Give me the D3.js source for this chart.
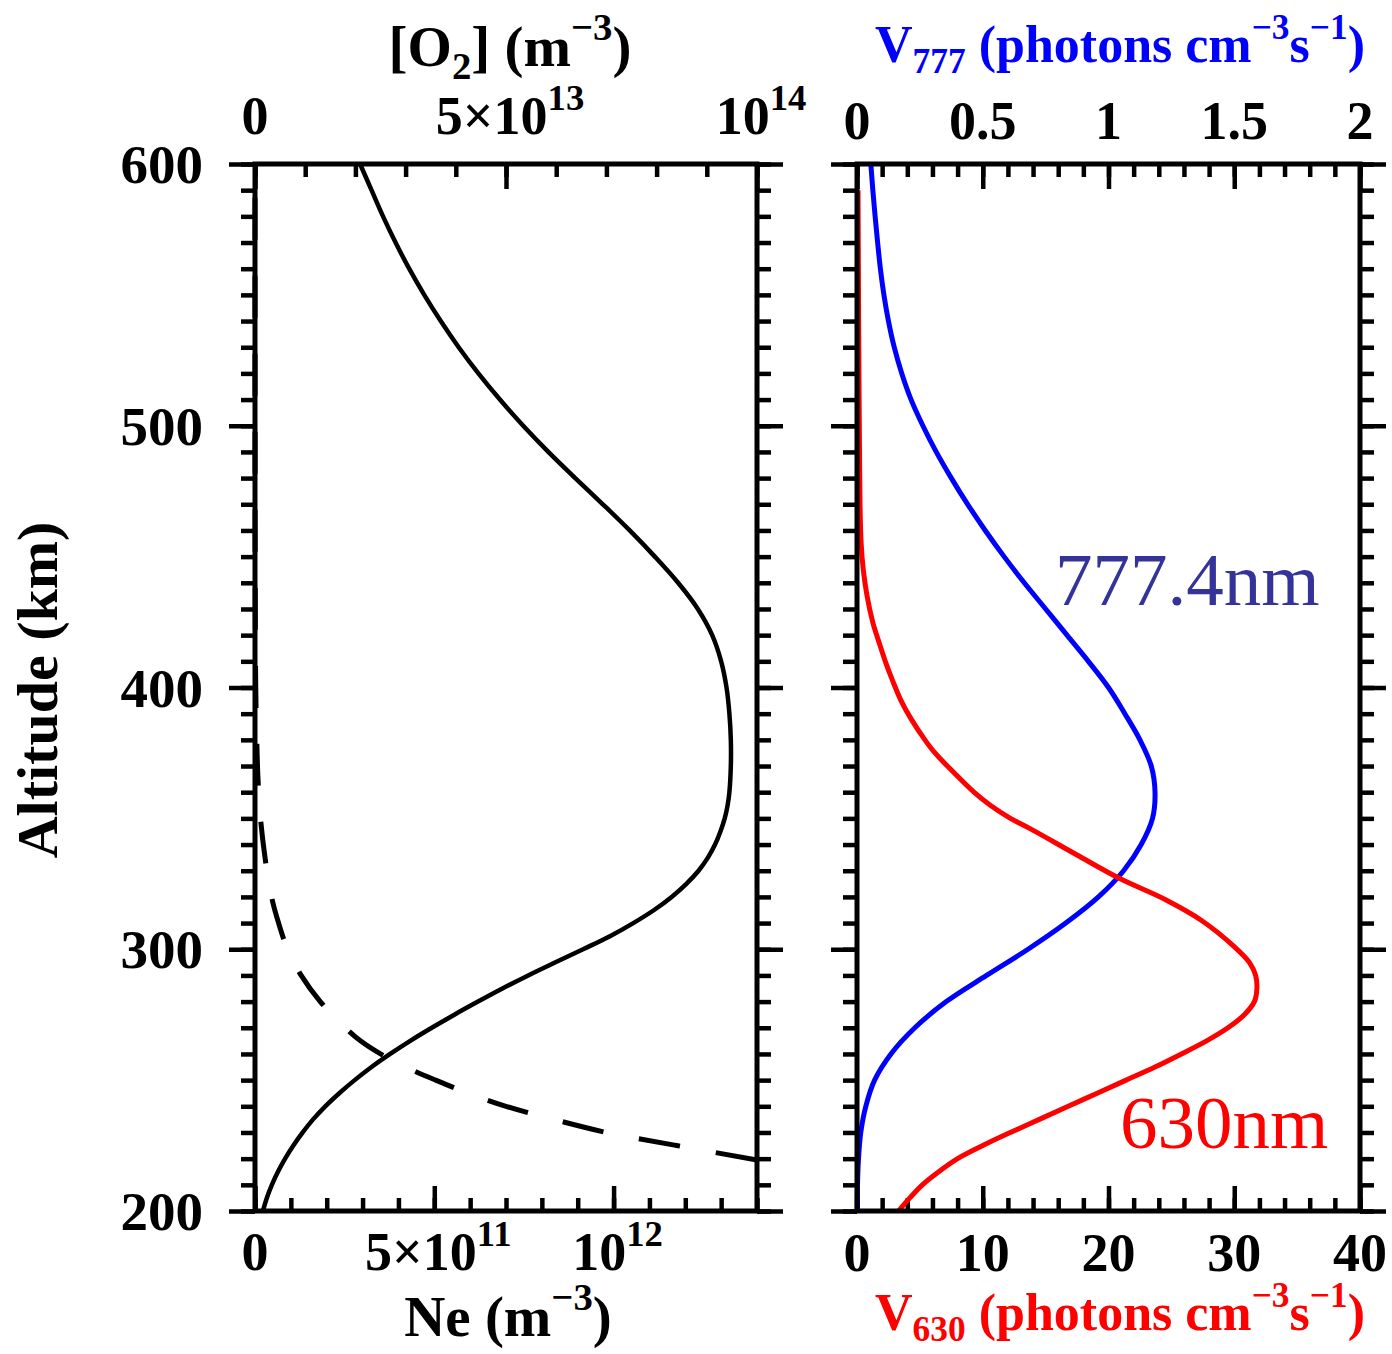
<!DOCTYPE html>
<html>
<head>
<meta charset="utf-8">
<script src="https://cdn.jsdelivr.net/npm/d3@7"></script>
<style>
  body { margin: 0; background: #fff; }
  svg text { font-family: "Liberation Serif", "Times New Roman", serif; }
</style>
</head>
<body>
<div id="chart"></div>
<script>
// ---- data ----
// electron density, Ne (units of 1e12 m^-3)
var neAlt = [200,205,210,215,220,225,230,235,240,245,250,255,260,265,270,275,280,285,290,295,300,305,310,315,320,325,330,335,340,345,350,355,360,370,380,390,400,410,420,430,440,450,460,470,480,490,500,510,520,530,540,550,560,570,580,590,600];
var neVal = [0.022,0.033,0.047,0.064,0.084,0.107,0.133,0.162,0.196,0.235,0.278,0.325,0.377,0.433,0.493,0.556,0.622,0.69,0.762,0.838,0.915,0.99,1.055,1.113,1.162,1.203,1.237,1.263,1.283,1.298,1.31,1.318,1.323,1.327,1.327,1.323,1.315,1.30,1.275,1.235,1.18,1.115,1.045,0.97,0.893,0.818,0.748,0.683,0.623,0.568,0.518,0.472,0.43,0.392,0.357,0.325,0.293];

// molecular oxygen, [O2] (units of 1e14 m^-3), dashed
var o2Alt = [219.5,225,230,235,240,245,250,255,260,265,270,280,290,300,310,320,335,350,365,380,400,450,500,550,600];
var o2Val = [1.0,0.84,0.70,0.595,0.50,0.425,0.36,0.30,0.25,0.21,0.18,0.13,0.092,0.065,0.047,0.033,0.02,0.011,0.006,0.0035,0.0015,0.0003,0.0001,0.00003,0.00001];

// 777.4 nm volume emission rate (photons cm^-3 s^-1)
var v777Alt = [200,210,220,230,240,250,260,270,280,290,300,310,320,330,340,350,360,370,380,390,400,410,420,430,440,450,460,470,480,490,500,510,520,530,540,550,560,570,580,590,600];
var v777Val = [0.001,0.002,0.006,0.015,0.035,0.07,0.135,0.23,0.355,0.515,0.68,0.83,0.96,1.06,1.13,1.175,1.185,1.17,1.125,1.065,1.0,0.92,0.835,0.75,0.665,0.585,0.51,0.44,0.375,0.315,0.262,0.215,0.178,0.148,0.125,0.107,0.093,0.082,0.072,0.063,0.055];

// 630 nm volume emission rate (photons cm^-3 s^-1)
var v630Alt = [200,205,210,215,220,225,230,235,240,245,250,255,260,265,270,275,280,285,290,295,301,311,319,327,336,346,350,355,360,367.5,375,380,388,395,403,410,418,425,435,445,455,470,490,510,530,550,570,590];
var v630Val = [3.3,4.2,5.2,6.5,8.0,10.0,12.2,14.5,16.8,19.1,21.4,23.7,25.8,27.8,29.5,30.8,31.6,31.8,31.7,31.2,30.0,27.4,24.5,20.9,17.5,13.8,12.2,10.6,9.3,7.7,6.2,5.4,4.3,3.5,2.8,2.25,1.7,1.25,0.8,0.5,0.33,0.24,0.2,0.17,0.14,0.12,0.1,0.08];

// tick labels
var altTicks = [200, 300, 400, 500, 600];
var neTickVals = [0, 0.5, 1.0];
var neTickBase = ["0", "5\u00d710", "10"];
var neTickSup = ["", "11", "12"];
var o2TickVals = [0, 0.5, 1.0];
var o2TickBase = ["0", "5\u00d710", "10"];
var o2TickSup = ["", "13", "14"];
var v777Ticks = [0, 0.5, 1, 1.5, 2];
var v777TickLabels = ["0", "0.5", "1", "1.5", "2"];
var v630Ticks = [0, 10, 20, 30, 40];
var v630TickLabels = ["0", "10", "20", "30", "40"];

// ---- layout ----
var svgWidth = 1392, svgHeight = 1354;
var plotTop = 164, plotBottom = 1211;
var left = { x0: 255, x1: 757 };
var right = { x0: 857, x1: 1360 };

var svg = d3.select("#chart").append("svg")
    .attr("width", svgWidth)
    .attr("height", svgHeight);

var yScale = d3.scaleLinear().domain([200, 600]).range([plotBottom, plotTop]);
var neScale = d3.scaleLinear().domain([0, 1.4]).range([left.x0, left.x1]);
var o2Scale = d3.scaleLinear().domain([0, 1.0]).range([left.x0, left.x1]);
var v777Scale = d3.scaleLinear().domain([0, 2]).range([right.x0, right.x1]);
var v630Scale = d3.scaleLinear().domain([0, 40]).range([right.x0, right.x1]);

var altMinor = d3.range(200, 601, 10);

// y ticks point outwards
function yTicks(xPos, side) {
    var mk = side === "left" ? d3.axisLeft : d3.axisRight;
    [[altMinor, 14], [altTicks, 26]].forEach(function (p) {
        svg.append("g")
            .attr("transform", `translate(${xPos},0)`)
            .call(mk(yScale).tickValues(p[0]).tickSize(p[1]).tickFormat(""))
            .call(g => g.select(".domain").remove())
            .selectAll("line").attr("stroke-width", 4.5);
    });
}

// x ticks point inwards
function xTicks(scale, yPos, side, minorVals, majorVals) {
    var mk = side === "top" ? d3.axisBottom : d3.axisTop;
    [[minorVals, 13], [majorVals, 25]].forEach(function (p) {
        svg.append("g")
            .attr("transform", `translate(0,${yPos})`)
            .call(mk(scale).tickValues(p[0]).tickSize(p[1]).tickFormat(""))
            .call(g => g.select(".domain").remove())
            .selectAll("line").attr("stroke-width", 4.5);
    });
}

// text with super/subscripts: parts = [[text, shift]], shift 1 = sup, -1 = sub
function richText(x, y, anchor, parts, size, color, weight) {
    var t = svg.append("text")
        .attr("x", x).attr("y", y)
        .attr("text-anchor", anchor)
        .attr("font-size", size)
        .attr("font-weight", weight || "bold")
        .attr("fill", color || "#000");
    var cur = 0;
    parts.forEach(function (p) {
        var target = p[1] === 1 ? -0.45 * size : (p[1] === -1 ? 0.22 * size : 0);
        t.append("tspan")
            .attr("dy", target - cur)
            .attr("font-size", p[1] ? size * 0.68 : size)
            .text(p[0]);
        cur = target;
    });
    return t;
}

// ---- left panel ----
yTicks(left.x0, "left");
yTicks(left.x1, "right");
xTicks(neScale, plotBottom, "bottom", d3.range(0, 1.41, 0.1), neTickVals);
xTicks(o2Scale, plotTop, "top", d3.range(0, 1.01, 0.1), o2TickVals);

var lineNe = d3.line()
    .x((d, i) => neScale(neVal[i]))
    .y(d => yScale(d))
    .curve(d3.curveCatmullRom);
svg.append("path")
    .attr("d", lineNe(neAlt))
    .attr("fill", "none").attr("stroke", "#000").attr("stroke-width", 4.5);

var lineO2 = d3.line()
    .x((d, i) => o2Scale(o2Val[i]))
    .y(d => yScale(d))
    .curve(d3.curveCatmullRom);
svg.append("path")
    .attr("d", lineO2(o2Alt))
    .attr("fill", "none").attr("stroke", "#000").attr("stroke-width", 5)
    .attr("stroke-dasharray", "42,36");

svg.append("rect")
    .attr("x", left.x0).attr("y", plotTop)
    .attr("width", left.x1 - left.x0).attr("height", plotBottom - plotTop)
    .attr("fill", "none").attr("stroke", "#000").attr("stroke-width", 5);

// altitude labels
altTicks.forEach(function (a) {
    svg.append("text")
        .attr("x", left.x0 - 52).attr("y", yScale(a) + 19)
        .attr("text-anchor", "end")
        .attr("font-size", 55).attr("font-weight", "bold")
        .text(a);
});
svg.append("text")
    .attr("transform", "translate(57,690) rotate(-90)")
    .attr("text-anchor", "middle")
    .attr("font-size", 58).attr("font-weight", "bold")
    .text("Altitude (km)");

// Ne tick labels (bottom) and O2 tick labels (top)
neTickVals.forEach(function (v, i) {
    richText(neScale(v) + (neTickSup[i] ? 4 : 0), 1270, "middle",
        [[neTickBase[i], 0], [neTickSup[i], 1]], 54);
});
o2TickVals.forEach(function (v, i) {
    richText(o2Scale(v) + (o2TickSup[i] ? 4 : 0), 134, "middle",
        [[o2TickBase[i], 0], [o2TickSup[i], 1]], 54);
});
richText(508, 1336, "middle", [["Ne (m", 0], ["\u22123", 1], [")", 0]], 57);
richText(510, 66, "middle", [["[O", 0], ["2", -1], ["] (m", 0], ["\u22123", 1], [")", 0]], 57);

// ---- right panel ----
yTicks(right.x0, "left");
yTicks(right.x1, "right");
xTicks(v630Scale, plotBottom, "bottom", d3.range(0, 40.1, 2), v630Ticks);
xTicks(v777Scale, plotTop, "top", d3.range(0, 2.01, 0.1), v777Ticks);

var line777 = d3.line()
    .x((d, i) => v777Scale(v777Val[i]))
    .y(d => yScale(d))
    .curve(d3.curveCatmullRom);
svg.append("path")
    .attr("d", line777(v777Alt))
    .attr("fill", "none").attr("stroke", "#0000ff").attr("stroke-width", 5);

var line630 = d3.line()
    .x((d, i) => v630Scale(v630Val[i]))
    .y(d => yScale(d))
    .curve(d3.curveCatmullRom);
svg.append("path")
    .attr("d", line630(v630Alt))
    .attr("fill", "none").attr("stroke", "#ff0000").attr("stroke-width", 5);

svg.append("rect")
    .attr("x", right.x0).attr("y", plotTop)
    .attr("width", right.x1 - right.x0).attr("height", plotBottom - plotTop)
    .attr("fill", "none").attr("stroke", "#000").attr("stroke-width", 5);

v777Ticks.forEach(function (v, i) {
    svg.append("text")
        .attr("x", v777Scale(v)).attr("y", 139)
        .attr("text-anchor", "middle")
        .attr("font-size", 54).attr("font-weight", "bold")
        .text(v777TickLabels[i]);
});
v630Ticks.forEach(function (v, i) {
    svg.append("text")
        .attr("x", v630Scale(v)).attr("y", 1271)
        .attr("text-anchor", "middle")
        .attr("font-size", 54).attr("font-weight", "bold")
        .text(v630TickLabels[i]);
});

richText(1120, 62, "middle",
    [["V", 0], ["777", -1], [" (photons cm", 0], ["\u22123", 1], ["s", 0], ["\u22121", 1], [")", 0]],
    52, "#0000ff");
richText(1120, 1330, "middle",
    [["V", 0], ["630", -1], [" (photons cm", 0], ["\u22123", 1], ["s", 0], ["\u22121", 1], [")", 0]],
    52, "#ff0000");

// line annotations
svg.append("text")
    .attr("x", 1055).attr("y", 605)
    .attr("font-size", 75).attr("fill", "#333399")
    .text("777.4nm");
svg.append("text")
    .attr("x", 1120).attr("y", 1148)
    .attr("font-size", 75).attr("fill", "#ff0000")
    .text("630nm");
</script>
</body>
</html>
